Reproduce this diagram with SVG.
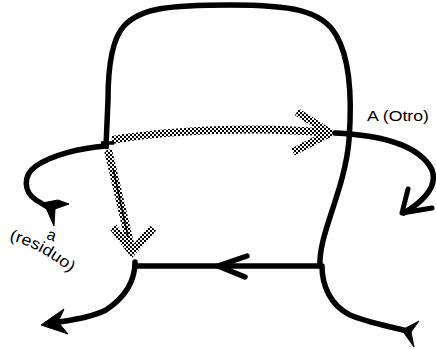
<svg xmlns="http://www.w3.org/2000/svg" width="436" height="349" viewBox="0 0 436 349">
<style>
.ln{fill:none;stroke:#000;stroke-width:5.5;stroke-linecap:round;stroke-linejoin:round}
.st{fill:none;stroke:url(#stip);stroke-width:8;stroke-linecap:butt;stroke-linejoin:miter}
.hd{fill:#000;stroke:#000;stroke-width:1;stroke-linejoin:round}
.tx{font-family:"Liberation Sans",Arial,sans-serif;fill:#000}
</style>
<defs>
<pattern id="stip" width="4" height="4" patternUnits="userSpaceOnUse">
<rect width="2" height="2" fill="#000"/><rect x="2" y="2" width="2" height="2" fill="#000"/>
</pattern>
<path id="resarc" d="M 9 240 Q 42 248 74 276"/>
</defs>
<rect width="436" height="349" fill="#fff"/>
<g id="connectors">
<path id="loop" class="ln" d="M 320 266 C 318 235, 345 190, 349 140 C 352 100, 351 60, 336 35 C 322 10, 290 5, 230 5 C 170 5, 140 8, 124 26 C 111 40, 108 70, 108 100 L 106 146"/>
<path class="ln" d="M 106 146 C 80 148, 52 155, 36 166 C 22 176, 24 192, 36 200 L 46 206"/>
<polygon class="hd" points="42,203 58,200 69,204 55,209 54,226 47,210"/>
<path class="ln" d="M 335 133 C 380 135, 420 145, 432 170 C 438 186, 425 200, 404 213"/>
<path class="ln" d="M 408 189 L 402 213 L 432 208" style="stroke-width:5"/>
<path class="ln" d="M 135 266 L 320 266"/>
<path class="ln" d="M 247 256 L 218 266 L 245 277"/>
<path class="ln" d="M 135 262 C 135 285, 121 300, 106 310 C 90 318, 70 320, 48 324"/>
<polygon class="hd" points="41,325 64,309 58,322 68,334"/>
<path class="ln" d="M 322 266 C 322 285, 330 305, 350 315 C 366 322, 388 326, 407 331"/>
<polygon class="hd" points="402,330 419,321 411,332 414,347"/>
<path class="st" d="M 112 140 C 170 130, 260 126, 330 133"/>
<path class="st" d="M 297 112 L 330 133 L 293 152"/>
<path class="st" d="M 108 150 L 132 252"/>
<path class="st" d="M 113 227 L 132 252 L 153 228"/>
<path d="M 113 168 L 128 237" stroke="#000" stroke-width="1.5" fill="none"/>
<path d="M 101 143 L 114 143 M 107 137 L 107 149" stroke="#000" stroke-width="3.5" fill="none"/>
</g>
<g id="label-otro"><text class="tx" x="367" y="121" font-size="15" textLength="62" lengthAdjust="spacingAndGlyphs">A (Otro)</text></g>
<g id="label-a"><text class="tx" x="47" y="240" font-size="16" transform="rotate(20 51 236)">a</text></g>
<g id="label-residuo"><text class="tx" font-size="16" textLength="70" lengthAdjust="spacingAndGlyphs"><textPath href="#resarc">(residuo)</textPath></text></g>
</svg>
